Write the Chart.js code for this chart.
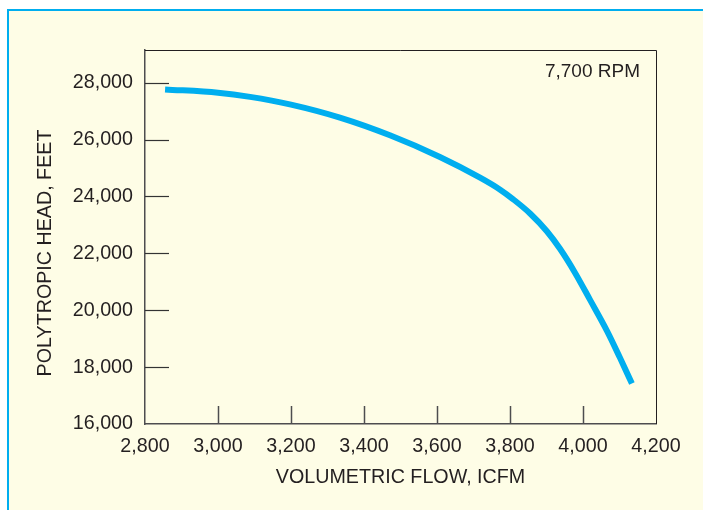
<html><head>
<title>Polytropic Head vs Volumetric Flow</title>
<style>
  body {
    margin: 0;
    background-color: white;
  }
  .wrap {
    position: absolute;
    left: 0;
    top: 0;
    width: 703px;
    height: 510px;
  }
</style>
<script src="https://cdn.jsdelivr.net/npm/chart.js"></script>
</head>
<body>
  <div class="wrap">
    <canvas id="headChart" width="703" height="510"></canvas>
  </div>

  <script>
    // Values
    const flow = [2855, 3000, 3088, 3200, 3334, 3471, 3608, 3718, 3773, 3808, 3855, 3901, 3937, 3978, 4019, 4066, 4101, 4134];
    const head = [27765, 27649, 27502, 27228, 26771, 26150, 25388, 24661, 24239, 23909, 23403, 22778, 22160, 21321, 20372, 19266, 18335, 17422];
    const xTicks = [2800, 3000, 3200, 3400, 3600, 3800, 4000, 4200];
    const yTicks = [16000, 18000, 20000, 22000, 24000, 26000, 28000];
    const speedLabel = '7,700 RPM';
    const yTitle = 'POLYTROPIC HEAD, FEET';

    const ink = '#231f20';
    const fontFamily = '"Liberation Sans", Arial, sans-serif';
    const fontSize = 19.7;

    // yellow panel with blue top/left rule, box around plot, inward ticks, labels
    const decor = {
      id: 'decor',
      beforeDraw(chart) {
        const ctx = chart.ctx;
        ctx.save();
        ctx.fillStyle = '#fefde6';
        ctx.fillRect(7, 9, chart.width - 7, chart.height - 9);
        ctx.fillStyle = '#00aeef';
        ctx.fillRect(7, 9, chart.width - 7, 2);
        ctx.fillRect(7, 9, 2, chart.height - 9);
        ctx.restore();
      },
      afterDraw(chart) {
        const ctx = chart.ctx;
        const area = chart.chartArea;
        const xs = chart.scales.x;
        const ys = chart.scales.y;
        ctx.save();
        ctx.strokeStyle = ink;
        ctx.lineWidth = 1;
        ctx.beginPath();
        ctx.moveTo(area.left, area.top + 0.5);
        ctx.lineTo(area.right + 0.5, area.top + 0.5);
        ctx.lineTo(area.right + 0.5, area.bottom);
        ctx.stroke();

        // inner tick marks, skipping the ones on the box corners
        ctx.strokeStyle = '#4d4d4f';
        ctx.lineWidth = 1.5;
        xTicks.slice(1, -1).forEach(v => {
          const px = Math.round(xs.getPixelForValue(v)) + 0.5;
          ctx.beginPath();
          ctx.moveTo(px, area.bottom);
          ctx.lineTo(px, area.bottom - 18);
          ctx.stroke();
        });
        ctx.strokeStyle = '#333';
        ctx.lineWidth = 1.2;
        yTicks.slice(1).forEach(v => {
          const py = Math.round(ys.getPixelForValue(v)) + 0.5;
          ctx.beginPath();
          ctx.moveTo(area.left, py);
          ctx.lineTo(area.left + 24, py);
          ctx.stroke();
        });

        ctx.fillStyle = ink;
        ctx.font = '19px ' + fontFamily;
        ctx.textAlign = 'right';
        ctx.textBaseline = 'middle';
        ctx.fillText(speedLabel, area.right - 16, area.top + 22);

        // y title sits a little below the plot centre in the reference
        ctx.font = fontSize + 'px ' + fontFamily;
        ctx.translate(46, 253);
        ctx.rotate(-Math.PI / 2);
        ctx.textAlign = 'center';
        ctx.fillText(yTitle, 0, 0);
        ctx.restore();
      }
    };

    new Chart(document.getElementById('headChart'), {
      type: 'line',
      data: {
        datasets: [{
          data: flow.map((f, i) => ({ x: f, y: head[i] })),
          borderColor: '#00aeef',
          borderWidth: 6,
          borderCapStyle: 'butt',
          pointRadius: 0,
          cubicInterpolationMode: 'monotone',
          fill: false
        }]
      },
      options: {
        responsive: false,
        animation: false,
        layout: { padding: { left: 0, right: 47, top: 50, bottom: 0 } },
        plugins: {
          legend: { display: false },
          tooltip: { enabled: false }
        },
        scales: {
          x: {
            type: 'linear',
            min: 2800,
            max: 4200,
            afterFit: s => { s.height = 86; },
            afterBuildTicks: s => { s.ticks = xTicks.map(v => ({ value: v })); },
            grid: { display: false, drawTicks: false },
            border: { display: true, color: '#4d4d4f', width: 1.5 },
            ticks: {
              autoSkip: false,
              maxRotation: 0,
              padding: 11,
              color: ink,
              font: { family: fontFamily, size: fontSize },
              callback: v => v.toLocaleString('en-US')
            },
            title: {
              display: true,
              text: 'VOLUMETRIC FLOW, ICFM',
              color: ink,
              font: { family: fontFamily, size: fontSize },
              padding: { top: 0, bottom: 21 }
            }
          },
          y: {
            min: 16000,
            max: 29150,
            afterFit: s => { s.width = 145; },
            afterBuildTicks: s => { s.ticks = yTicks.map(v => ({ value: v })); },
            grid: { display: false, drawTicks: false },
            border: { display: true, color: '#4d4d4f', width: 1.5 },
            ticks: {
              autoSkip: false,
              padding: 12,
              color: ink,
              font: { family: fontFamily, size: fontSize },
              callback: v => v.toLocaleString('en-US')
            }
          }
        }
      },
      plugins: [decor]
    });
  </script>
</body></html>
